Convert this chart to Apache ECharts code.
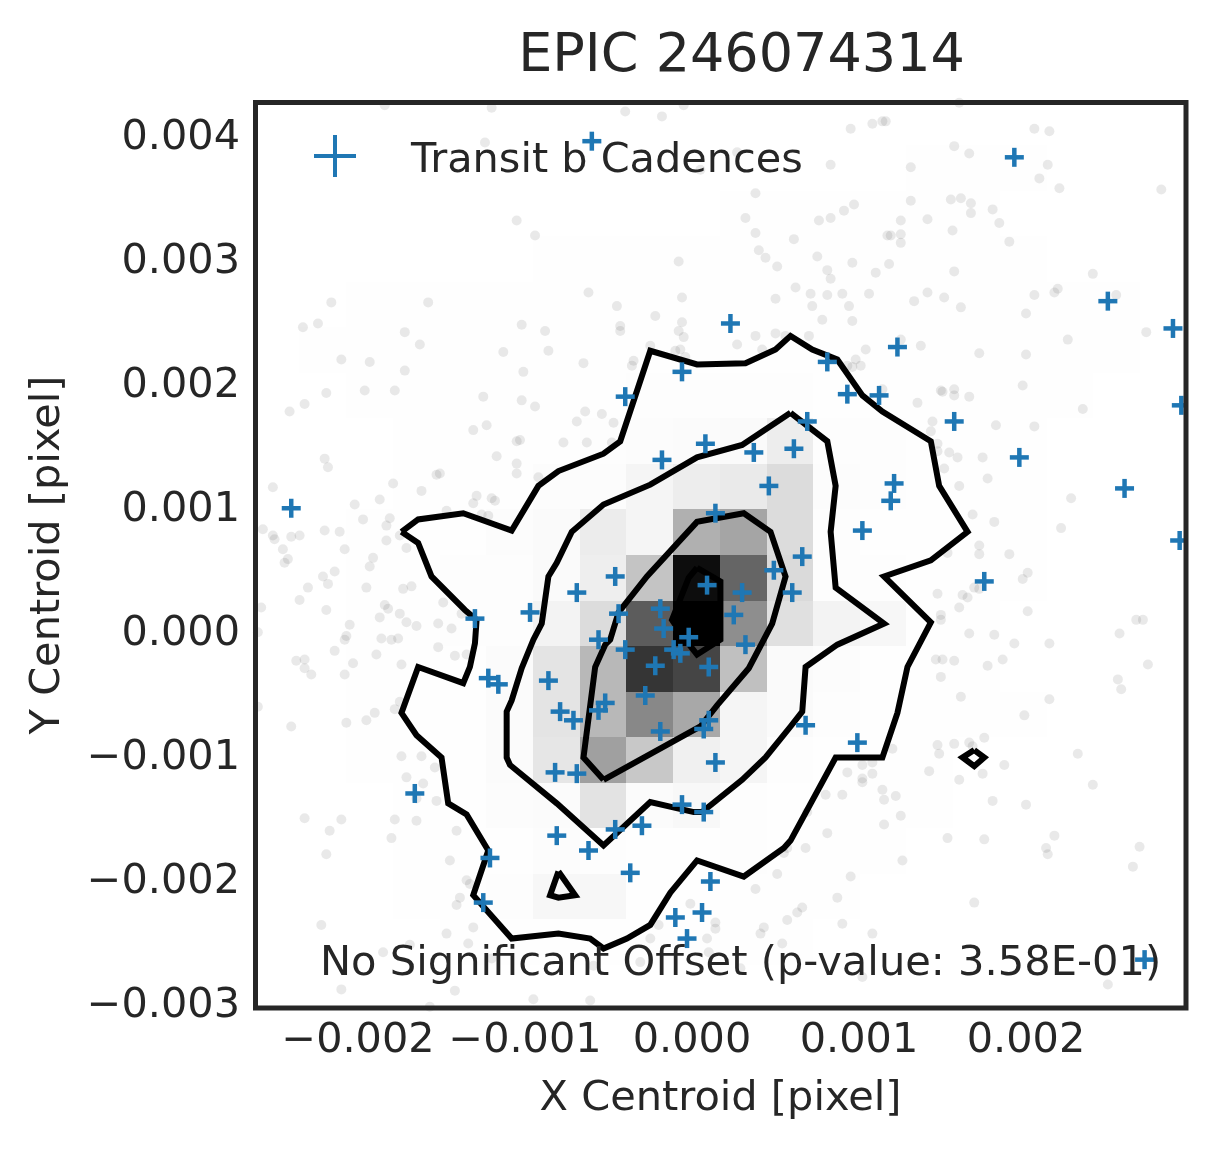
<!DOCTYPE html>
<html>
<head>
<meta charset="utf-8">
<title>EPIC 246074314</title>
<script src="https://cdn.jsdelivr.net/npm/echarts@6/dist/echarts.min.js"></script>
<style>
html, body { margin: 0; padding: 0; background: #fff; }
#chart { width: 1215px; height: 1149px; }
</style>
</head>
<body>
<div id="chart"></div>
<script>
// all positions are in units of 0.001 pixel
var xTicks = [-2, -1, 0, 1, 2];
var yTicks = [-3, -2, -1, 0, 1, 2, 3, 4];
var xTickLabels = ['\u22120.002', '\u22120.001', '0.000', '0.001', '0.002'];
var yTickLabels = ['\u22120.003', '\u22120.002', '\u22120.001', '0.000', '0.001', '0.002', '0.003', '0.004'];

var histXEdges = [-2.351, -2.071, -1.792, -1.512, -1.232, -0.953, -0.673, -0.393, -0.114, 0.166, 0.446, 0.725, 1.005, 1.284, 1.564, 1.844, 2.123, 2.403, 2.683, 2.962];
var histYEdges = [3.916, 3.549, 3.182, 2.815, 2.448, 2.081, 1.714, 1.347, 0.980, 0.613, 0.246, -0.121, -0.488, -0.855, -1.222, -1.589, -1.956, -2.323, -2.690, -3.057];
// darkness of each 2d histogram cell, 0 = white, 255 = black
var histShade = [
    [0,0,0,0,0,0,0,0,0,0,0,0,0,1,1,1,0,0,0],
    [0,0,0,0,0,0,0,0,0,1,1,1,1,1,1,0,0,0,0],
    [0,0,0,0,0,1,1,1,1,1,1,1,1,1,1,1,0,0,0],
    [0,1,1,1,1,1,1,1,1,1,1,1,1,1,1,1,1,1,0],
    [1,1,1,1,1,1,1,1,1,1,1,1,1,1,1,1,1,1,0],
    [0,1,1,1,1,1,1,2,2,2,2,1,1,1,1,1,1,0,0],
    [0,0,1,1,1,1,2,3,4,5,18,2,2,1,1,1,0,0,0],
    [0,0,1,1,1,3,3,10,18,21,35,3,2,1,1,1,0,0,0],
    [0,1,1,1,3,5,19,10,79,90,35,2,1,1,1,1,0,0,0],
    [0,1,1,2,2,5,17,59,242,154,37,2,2,1,1,1,0,0,0],
    [0,1,1,2,2,12,35,163,255,113,31,12,8,1,1,0,0,0,0],
    [0,1,1,1,4,27,71,202,186,63,5,3,1,1,1,0,0,0,0],
    [0,1,1,1,4,27,71,119,87,10,5,2,1,1,1,1,0,0,0],
    [0,1,1,1,4,25,95,55,15,10,2,1,1,1,0,0,0,0,0],
    [0,0,1,1,3,4,28,4,7,2,1,1,1,1,0,0,0,0,0],
    [0,0,1,1,1,3,2,1,1,2,1,1,1,0,0,0,0,0,0],
    [0,0,1,1,2,8,8,1,1,1,1,1,0,0,0,0,0,0,0],
    [0,0,0,1,1,1,1,1,1,1,1,0,0,0,0,0,0,0,0],
    [0,0,0,0,0,0,0,0,0,0,0,0,0,0,0,0,0,0,0]
];

var contourOuter = [[-1.74,0.80],[-1.64,0.90],[-1.37,0.95],[-1.08,0.81],[-0.92,1.17],[-0.80,1.29],[-0.53,1.43],[-0.43,1.53],[-0.25,2.26],[0.03,2.15],[0.32,2.16],[0.50,2.27],[0.59,2.38],[0.72,2.27],[0.87,2.19],[1.02,1.90],[1.14,1.77],[1.43,1.53],[1.48,1.17],[1.65,0.80],[1.43,0.57],[1.15,0.44],[1.43,0.07],[1.29,-0.29],[1.23,-0.66],[1.14,-1.02],[0.86,-1.02],[0.59,-1.69],[0.55,-1.75],[0.31,-1.98],[0.03,-1.85],[-0.13,-2.11],[-0.25,-2.37],[-0.39,-2.48],[-0.53,-2.56],[-0.61,-2.48],[-0.80,-2.44],[-1.08,-2.48],[-1.31,-2.13],[-1.22,-1.77],[-1.35,-1.48],[-1.46,-1.39],[-1.50,-1.02],[-1.65,-0.84],[-1.74,-0.66],[-1.64,-0.29],[-1.37,-0.42],[-1.33,-0.29],[-1.30,-0.10],[-1.29,0.09],[-1.36,0.17],[-1.56,0.44],[-1.64,0.71],[-1.74,0.80]];
var contourMiddle = [[0.59,1.76],[0.81,1.53],[0.86,1.17],[0.83,0.80],[0.86,0.35],[1.15,0.06],[0.87,-0.11],[0.68,-0.29],[0.66,-0.65],[0.59,-0.77],[0.44,-1.02],[0.30,-1.20],[0.06,-1.46],[0.01,-1.46],[-0.25,-1.38],[-0.53,-1.73],[-0.81,-1.39],[-1.09,-1.08],[-1.11,-1.02],[-1.11,-0.65],[-1.08,-0.56],[-1.02,-0.30],[-0.95,-0.07],[-0.90,0.06],[-0.86,0.44],[-0.81,0.55],[-0.72,0.80],[-0.53,1.02],[-0.25,1.18],[0.03,1.40],[0.30,1.50],[0.59,1.76]];
var contourInner = [[-0.53,-1.20],[-0.65,-1.02],[-0.58,-0.29],[-0.52,-0.11],[-0.49,-0.07],[-0.44,0.15],[-0.27,0.44],[0.03,0.88],[0.31,0.95],[0.47,0.80],[0.56,0.44],[0.48,0.06],[0.34,-0.30],[0.15,-0.60],[0.05,-0.77],[-0.53,-1.20]];
var contourCore = [[0.03,0.51],[0.17,0.40],[0.17,-0.07],[0.03,-0.19],[-0.04,-0.07],[-0.12,0.09],[-0.02,0.43],[0.03,0.51]];
var contourTriangle = [[-0.80,-1.94],[-0.70,-2.13],[-0.80,-2.15],[-0.85,-2.13],[-0.80,-1.94]];
var contourDiamond = [[1.69,-0.96],[1.75,-1.02],[1.69,-1.09],[1.62,-1.02],[1.69,-0.96]];

var transitPoints = [[-0.60,3.95],[1.93,3.82],[2.49,2.66],[2.88,2.44],[0.23,2.48],[1.23,2.29],[-0.06,2.09],[0.81,2.17],[-0.40,1.89],[0.93,1.91],[1.12,1.90],[0.69,1.69],[2.93,1.82],[1.57,1.69],[0.08,1.51],[0.61,1.47],[0.37,1.44],[-0.18,1.38],[1.96,1.40],[0.46,1.17],[1.21,1.19],[1.19,1.05],[2.59,1.15],[-2.40,0.99],[0.14,0.95],[1.02,0.81],[2.92,0.73],[0.66,0.60],[0.49,0.49],[1.75,0.40],[-0.46,0.44],[-0.69,0.31],[0.09,0.37],[0.30,0.31],[0.60,0.31],[-1.30,0.10],[-0.97,0.15],[-0.44,0.14],[-0.19,0.18],[0.25,0.13],[-0.17,0.02],[-0.02,-0.05],[-0.56,-0.07],[-0.40,-0.15],[-0.11,-0.15],[-0.07,-0.18],[0.32,-0.11],[-0.22,-0.28],[0.10,-0.29],[-0.86,-0.40],[-1.22,-0.38],[-1.16,-0.43],[-0.28,-0.52],[-0.52,-0.58],[-0.56,-0.64],[-0.79,-0.65],[-0.71,-0.72],[0.68,-0.76],[0.10,-0.72],[0.07,-0.79],[-0.19,-0.81],[0.99,-0.90],[0.14,-1.06],[-0.82,-1.14],[-0.69,-1.15],[-1.66,-1.31],[-0.06,-1.40],[0.07,-1.46],[-0.30,-1.57],[-0.46,-1.60],[-0.81,-1.65],[-0.62,-1.77],[-1.21,-1.83],[-0.37,-1.95],[0.11,-2.02],[-1.25,-2.19],[0.06,-2.27],[-0.10,-2.31],[-0.03,-2.48],[2.71,-2.65]];

// the faint cadences outside the outer contour
var otherPoints = [[-1.84,4.24],[-1.20,4.22],[-0.40,4.19],[-0.18,4.15],[-0.05,4.24],[-1.24,3.94],[-1.05,3.31],[-0.94,3.19],[-0.08,2.98],[-0.62,2.73],[-0.45,2.62],[-0.06,2.69],[-0.22,2.54],[-0.06,2.49],[-0.43,2.46],[-0.43,2.42],[-0.08,2.42],[-0.05,2.37],[-2.16,2.65],[-1.58,2.65],[-2.33,2.45],[-2.24,2.48],[-1.72,2.41],[-1.02,2.47],[-0.88,2.42],[-1.63,2.31],[-1.13,2.25],[-0.86,2.26],[-0.25,2.30],[-0.10,2.26],[-0.07,2.27],[-2.10,2.19],[-1.93,2.17],[-0.65,2.16],[-1.72,2.10],[-1.01,2.09],[-0.35,2.18],[-0.36,2.14],[-0.04,2.21],[-2.19,1.92],[-1.96,1.94],[-1.78,1.94],[-1.25,1.89],[-1.02,1.86],[-0.94,1.81],[-0.64,1.77],[-0.54,1.75],[-0.69,1.69],[-0.47,1.68],[-1.31,1.62],[-1.23,1.66],[-1.05,1.53],[-1.03,1.54],[-0.77,1.52],[-0.63,1.52],[-0.48,1.52],[-1.17,1.41],[-1.05,1.35],[-1.05,1.27],[-1.51,1.27],[-1.53,1.26],[-1.79,1.19],[-1.62,1.13],[-0.92,1.24],[-1.29,1.09],[-1.31,1.03],[-1.20,1.07],[-1.18,1.05],[-1.87,1.06],[-1.47,0.97],[-1.26,0.94],[-1.22,0.93],[-1.81,0.91],[-1.83,0.85],[-1.75,0.77],[-1.83,0.73],[-1.71,0.67],[-1.73,0.34],[-1.68,0.36],[-1.49,0.23],[-1.84,0.21],[-1.82,0.18],[-1.87,0.11],[-1.75,0.14],[-1.71,0.07],[-1.65,0.04],[-1.52,0.06],[-1.44,0.02],[-1.38,0.14],[-1.86,-0.06],[-1.80,-0.07],[-1.76,-0.06],[-1.52,-0.13],[-1.42,-0.20],[-1.35,-0.19],[-1.74,-0.27],[-1.75,-0.57],[-1.78,-0.63],[-1.74,-1.01],[-1.62,-1.01],[-1.54,-1.10],[-1.71,-1.18],[-1.61,-1.23],[-1.53,-1.37],[-1.65,-1.35],[-1.78,-1.52],[-1.65,-1.53],[-1.41,-1.61],[-1.80,-1.67],[-1.45,-1.85],[-1.35,-2.01],[-1.33,-2.04],[-1.39,-2.15],[-1.41,-2.21],[-1.31,-2.39],[-1.47,-2.44],[-1.34,-2.52],[-1.85,-2.59],[-1.69,-2.53],
[-2.41,1.77],[-2.32,1.83],[-2.20,1.39],[-2.18,1.32],[-2.51,1.16],[-2.02,1.02],[-1.97,0.90],[-2.57,0.82],[-2.51,0.77],[-2.50,0.74],[-2.40,0.76],[-2.35,0.77],[-2.20,0.81],[-2.11,0.80],[-2.45,0.66],[-2.08,0.66],[-2.42,0.58],[-2.44,0.55],[-1.91,0.59],[-1.93,0.52],[-2.14,0.48],[-2.21,0.44],[-2.18,0.38],[-2.30,0.35],[-2.35,0.25],[-1.95,0.35],[-2.58,0.19],[-2.19,0.17],[-2.05,0.05],[-2.60,-0.01],[-2.07,-0.04],[-2.08,-0.07],[-2.14,-0.16],[-1.89,-0.19],[-2.37,-0.24],[-2.32,-0.23],[-2.32,-0.30],[-2.28,-0.35],[-2.03,-0.26],[-2.08,-0.35],[-2.60,-0.61],[-2.40,-0.77],[-2.07,-0.74],[-1.95,-0.72],[-1.90,-0.66],[-2.32,-1.51],[-2.10,-1.52],[-2.17,-1.61],[-2.19,-1.80],[-2.22,-2.37],[-2.10,-2.89],[-1.42,-2.90],[-1.57,-3.03],[-0.95,-2.97],[-0.61,-2.98],[-1.20,-2.64],[-0.59,-2.70],[-0.31,-2.67],[-0.25,-2.48],[-0.20,-2.37],[0.29,-2.72],[1.02,-2.79],[2.49,-2.85],
[-0.01,-2.20],[0.09,-2.48],[0.14,-2.35],[0.14,-2.40],[0.10,-2.59],[0.38,-2.08],[0.43,-2.39],[0.41,-2.44],[0.54,-2.52],[0.57,-2.33],[0.66,-2.23],[0.63,-2.27],[0.51,-1.96],[0.87,-2.15],[0.90,-2.36],[1.08,-2.44],[0.95,-1.98],[1.26,-1.85],[1.69,-2.19],[0.68,-1.75],[0.57,-1.75],[0.55,-1.79],[0.81,-1.63],[1.15,-1.56],[1.25,-1.49],[0.69,-1.46],[0.80,-1.32],[0.90,-1.32],[1.14,-1.28],[1.15,-1.36],[1.22,-1.33],[0.93,-1.14],[1.08,-1.15],[1.02,-1.08],[1.08,-1.06],[1.02,-1.19],[1.02,-1.22],[1.20,-0.95],[1.42,-1.13],[1.48,-0.99],[1.47,-0.92],[1.57,-0.91],[1.66,-0.90],[1.68,-0.93],[1.75,-0.86],[1.74,-1.15],[1.60,-1.20],[1.87,-1.08],[1.80,-1.37],[2.00,-1.40],[1.53,-1.67],[1.75,-1.68],[2.31,-0.99],[2.40,-1.24],[2.17,-1.65],[2.12,-1.75],[2.13,-1.80],[2.68,-1.74],[2.64,-1.90],[1.46,-0.23],[1.50,-0.23],[1.57,-0.24],[1.77,-0.28],[1.49,-0.37],[1.61,-0.53],[1.99,-0.68],[2.14,-0.55],[1.86,-0.23],[1.93,-0.10],[2.14,-0.10],[1.81,-0.03],[1.66,-0.02],[2.01,0.16],[2.66,0.09],[2.70,0.09],[2.56,-0.02],[2.73,-0.27],[2.55,-0.39],[2.57,-0.47],
[1.49,0.13],[1.49,0.09],[1.60,0.19],[1.62,0.29],[1.65,0.27],[1.69,0.35],[1.72,0.34],[1.47,0.30],[2.01,0.47],[1.98,0.42],[1.90,0.62],[1.72,0.69],[1.72,0.62],[1.53,0.63],[2.21,0.83],[2.27,1.07],[1.68,0.94],[1.81,0.88],[1.60,1.17],[1.77,1.23],[1.74,1.40],[1.51,1.31],[1.59,1.40],[1.54,1.44],[1.47,1.51],[1.47,1.45],[1.82,1.66],[2.05,1.65],[2.34,1.79],[1.44,1.69],[1.43,1.61],[1.35,1.84],[1.98,1.98],[1.49,1.94],[1.50,1.93],[1.57,1.95],[1.57,1.90],[1.66,1.89],[1.14,1.95],[0.93,2.14],[0.98,2.19],[1.01,2.14],[0.96,2.13],[1.04,2.27],[1.37,2.30],[1.25,2.35],[1.72,2.24],[2.00,2.23],[2.25,2.35],[2.72,2.41],[0.27,2.31],[0.38,2.38],[0.50,2.40],[0.56,2.38],[0.70,2.38],[0.42,2.27],[0.78,2.51],[0.96,2.50],[0.72,2.62],[0.94,2.62],[0.71,2.72],[0.81,2.71],[0.90,2.72],[1.06,2.72],[0.50,2.68],[0.62,2.77],[1.33,2.66],[1.41,2.73],[1.51,2.69],[1.61,2.61],[2.00,2.56],[2.05,2.71],[2.17,2.73],[2.19,2.76],[2.54,2.71],[2.40,2.88],[1.57,2.90],[0.81,2.91],[0.83,2.84],[1.10,2.89],[1.18,2.96],[0.96,2.97],[0.75,3.02],[0.51,2.94],[0.44,3.01],[0.40,3.07],[0.61,3.16],[0.38,3.21],[1.17,3.19],[1.19,3.19],[1.25,3.20],[1.25,3.13],[1.56,3.23],[1.90,3.14],[0.32,3.33],[0.76,3.31],[0.83,3.33],[1.25,3.31],[1.41,3.32],[1.84,3.29],[0.91,3.39],[0.97,3.44],[1.31,3.47],[1.55,3.48],[1.61,3.49],[1.67,3.45],[1.67,3.37],[1.80,3.40],[0.38,3.53],[2.20,3.57],[2.81,3.56],[2.08,3.65],[0.83,3.76],[1.31,3.74],[2.13,3.76],[1.57,3.91],[1.66,3.85],[0.95,4.05],[1.08,4.09],[1.14,4.11],[1.16,4.11],[2.05,4.05],[2.14,4.03],[1.60,4.26],[0.27,3.86],[0.05,3.72]];

var textColor = '#262626';
var fontName = 'DejaVu Sans';
var crossColor = '#1f77b4';

var histCells = [];
for (var r = 0; r < histShade.length; r++) {
    for (var c = 0; c < histShade[r].length; c++) {
        if (histShade[r][c] > 0) {
            histCells.push([histXEdges[c], histXEdges[c + 1], histYEdges[r], histYEdges[r + 1], histShade[r][c]]);
        }
    }
}

function renderCell(params, api) {
    var p0 = api.coord([api.value(0), api.value(2)]);
    var p1 = api.coord([api.value(1), api.value(3)]);
    var g = 255 - api.value(4);
    return {
        type: 'rect',
        shape: {
            x: Math.round(p0[0]),
            y: Math.round(p0[1]),
            width: Math.round(p1[0]) - Math.round(p0[0]),
            height: Math.round(p1[1]) - Math.round(p0[1])
        },
        style: { fill: 'rgb(' + g + ',' + g + ',' + g + ')' }
    };
}

function renderCross(params, api) {
    var p = api.coord([api.value(0), api.value(1)]);
    var half = 9.5;
    return {
        type: 'group',
        children: [
            { type: 'line', shape: { x1: p[0] - half, y1: p[1], x2: p[0] + half, y2: p[1] }, style: { stroke: crossColor, lineWidth: 4.5 } },
            { type: 'line', shape: { x1: p[0], y1: p[1] - half, x2: p[0], y2: p[1] + half }, style: { stroke: crossColor, lineWidth: 4.5 } }
        ]
    };
}

function contourSeries(points, width) {
    return {
        type: 'line',
        data: points,
        showSymbol: false,
        symbol: 'none',
        silent: true,
        z: 4,
        lineStyle: { color: '#000', width: width, join: 'miter', miterLimit: 4 }
    };
}

var dom = document.getElementById('chart');
var myChart = echarts.init(dom);

var option = {
    animation: false,
    backgroundColor: '#fff',
    title: [
        {
            text: 'EPIC 246074314',
            left: 736.5,
            top: 25,
            textAlign: 'center',
            textStyle: { color: textColor, fontFamily: fontName, fontSize: 54, fontWeight: 'normal' }
        },
        {
            text: 'No Significant Offset (p-value: 3.58E-01)',
            left: 320,
            top: 943,
            padding: 0,
            textStyle: { color: textColor, fontFamily: fontName, fontSize: 41.6, fontWeight: 'normal' }
        }
    ],
    legend: {
        left: 314,
        top: 135,
        padding: 0,
        itemWidth: 42,
        itemHeight: 42,
        selectedMode: false,
        data: [{ name: 'Transit b Cadences', icon: 'path://M19 0h4v19h19v4h-19v19h-4v-19h-19v-4h19z' }],
        formatter: '{a|{name}}',
        textStyle: {
            color: textColor,
            fontFamily: fontName,
            fontSize: 41.4,
            rich: {
                a: { color: textColor, fontFamily: fontName, fontSize: 41.4, padding: [10, 0, 0, 50] }
            }
        }
    },
    grid: { left: 255, right: 29, top: 102, bottom: 141 },
    xAxis: {
        type: 'value',
        min: -2.617,
        max: 2.958,
        name: 'X Centroid [pixel]',
        nameLocation: 'middle',
        nameGap: 70,
        nameTextStyle: { color: textColor, fontFamily: fontName, fontSize: 41.5 },
        axisLine: { show: false },
        axisTick: { show: false },
        splitLine: { show: false },
        axisLabel: {
            customValues: xTicks,
            margin: 13,
            color: textColor,
            fontFamily: fontName,
            fontSize: 41.4,
            formatter: function (v) { return xTickLabels[xTicks.indexOf(v)]; }
        }
    },
    yAxis: {
        type: 'value',
        min: -3.04,
        max: 4.266,
        name: 'Y Centroid [pixel]',
        nameLocation: 'middle',
        nameGap: 186,
        nameTextStyle: { color: textColor, fontFamily: fontName, fontSize: 41.5 },
        axisLine: { show: false },
        axisTick: { show: false },
        splitLine: { show: false },
        axisLabel: {
            customValues: yTicks,
            margin: 15,
            verticalAlign: 'top',
            lineHeight: 6,
            color: textColor,
            fontFamily: fontName,
            fontSize: 41.4,
            formatter: function (v) { return yTickLabels[yTicks.indexOf(v)]; }
        }
    },
    graphic: [{
        type: 'rect',
        z: 100,
        silent: true,
        shape: { x: 255.5, y: 102.5, width: 930.5, height: 905.5 },
        style: { fill: 'none', stroke: textColor, lineWidth: 5 }
    }],
    series: [
        {
            type: 'custom',
            renderItem: renderCell,
            data: histCells,
            silent: true,
            z: 1,
            clip: true
        },
        {
            type: 'scatter',
            data: otherPoints,
            symbol: 'circle',
            symbolSize: 10,
            silent: true,
            z: 2,
            itemStyle: { color: '#000', opacity: 0.085 }
        },
        contourSeries(contourOuter, 6),
        contourSeries(contourMiddle, 6),
        contourSeries(contourInner, 6),
        contourSeries(contourCore, 6),
        contourSeries(contourTriangle, 6),
        contourSeries(contourDiamond, 6),
        {
            name: 'Transit b Cadences',
            type: 'custom',
            renderItem: renderCross,
            data: transitPoints,
            silent: true,
            z: 6,
            clip: true,
            itemStyle: { color: crossColor }
        }
    ]
};

if (option && typeof option === 'object') {
    myChart.setOption(option);
    window.addEventListener('resize', function () {
        myChart.resize();
    });
}
</script>
</body>
</html>
